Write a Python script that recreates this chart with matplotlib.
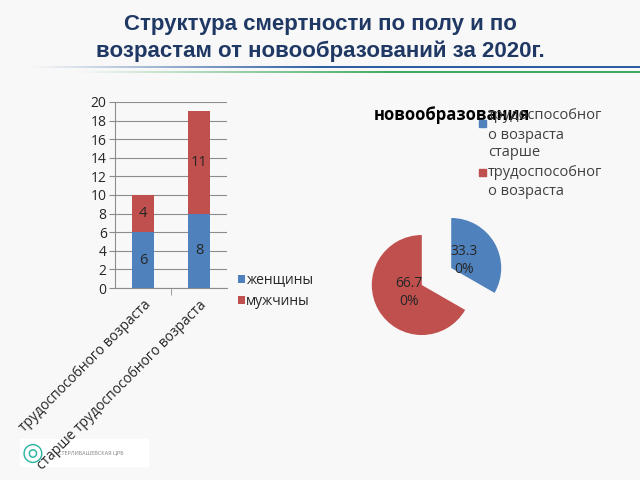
import numpy as np
import matplotlib
matplotlib.use("Agg")
import matplotlib.pyplot as plt
from matplotlib.patches import Rectangle

plt.rcParams['font.family'] = ['Open Sans', 'DejaVu Sans']

# ---- data ----
title = "Структура смертности по полу и по\nвозрастам от новообразований за 2020г."
categories = ["трудоспособного возраста", "старше трудоспособного возраста"]
women = [6, 8]
men = [4, 11]
series_names = ["женщины", "мужчины"]
y_ticks = list(range(0, 21, 2))

pie_title = "новообразования"
pie_values = [33.3, 66.7]
pie_labels = ["33.3\n0%", "66.7\n0%"]
pie_legend = ["трудоспособног\nо возраста", "старше\nтрудоспособног\nо возраста"]

blue = "#4F81BD"
red = "#C0504D"
bg = "#F8F8F8"
txt = "#262626"

fig = plt.figure(figsize=(6.4, 4.8), dpi=100, facecolor=bg)
W, H = 640, 480

def fx(px):
    return px / W

def fy(py):
    return 1 - py / H

# ---- title ----
fig.text(0.5, fy(38), title, ha="center", va="center", fontsize=16,
         fontweight="bold", color="#1F3864", family=["Liberation Sans", "DejaVu Sans"],
         linespacing=1.3)

# gradient lines under title
gax = fig.add_axes([0, fy(75), 1, (75 - 64) / H])
gax.set_axis_off()
n = 400
base = np.array(matplotlib.colors.to_rgb(bg))
img = np.ones((11, n, 3)) * base
t = np.linspace(0, 1, n)
bl = np.array(matplotlib.colors.to_rgb("#2E5FA3"))
gr = np.array(matplotlib.colors.to_rgb("#3DAA5C"))
wb = np.clip((t - 0.05) / 0.45, 0, 1)[:, None]
wg = np.clip((t - 0.12) / 0.5, 0, 1)[:, None]
for r in (2, 3):
    img[r] = base * (1 - wb) + bl * wb
for r in (7, 8):
    img[r] = base * (1 - wg) + gr * wg
gax.imshow(img, aspect="auto", interpolation="bilinear", extent=[0, 1, 0, 1])
gax.set_xlim(0, 1)
gax.set_ylim(0, 1)

# ---- logo (behind everything) ----
fig.patches.append(Rectangle((fx(20), fy(466)), 128 / W, 27 / H,
                             transform=fig.transFigure, color="white", zorder=-2))

# ---- bar chart ----
ax = fig.add_axes([fx(115), fy(288), fx(112), (288 - 102) / H])
ax.set_facecolor(bg)
x = np.arange(len(categories))
bw = 0.38
b1 = ax.bar(x, women, bw, color=blue, label=series_names[0], zorder=3)
b2 = ax.bar(x, men, bw, bottom=women, color=red, label=series_names[1], zorder=3)
for bars, vals, bots in ((b1, women, [0, 0]), (b2, men, women)):
    for rect, v, b in zip(bars, vals, bots):
        ax.text(rect.get_x() + rect.get_width() / 2, b + v / 2, str(v),
                ha="center", va="center", fontsize=10.5, color=txt, zorder=4)
ax.set_xlim(-0.5, len(categories) - 0.5)
ax.set_ylim(0, 20)
ax.set_yticks(y_ticks)
ax.set_yticklabels([str(v) for v in y_ticks], fontsize=10, color=txt)
ax.yaxis.grid(True, color="#8C8C8C", linewidth=0.8, zorder=0)
ax.set_axisbelow(True)
ax.set_xticks(x)
ax.set_xticklabels(categories, rotation=45, ha="right", rotation_mode="anchor",
                   fontsize=10, color=txt)
ax.set_xticks([0.5], minor=True)
ax.tick_params(axis="x", which="major", length=0, pad=7)
ax.tick_params(axis="x", which="minor", length=5, color="#8C8C8C")
ax.tick_params(axis="y", length=4, color="#8C8C8C", pad=2)
for s in ("top", "right"):
    ax.spines[s].set_visible(False)
ax.spines["left"].set_color("#8C8C8C")
ax.spines["bottom"].set_color("#8C8C8C")

ax.legend(loc="upper left", bbox_to_anchor=(fx(231), fy(266)),
          bbox_transform=fig.transFigure, frameon=False, fontsize=10,
          handlelength=0.5, handleheight=0.5, handletextpad=0.1,
          labelspacing=0.45, borderpad=0, labelcolor=txt)

# ---- pie chart ----
pax = fig.add_axes([fx(336.5), fy(376.5), fx(200), 200 / H])
pax.set_axis_off()
wedges, texts = pax.pie(pie_values, colors=[blue, red], startangle=90,
                        counterclock=False, explode=[0.34, 0.34], radius=1,
                        labels=pie_labels, labeldistance=0.3,
                        textprops=dict(fontsize=10, color=txt, ha="center",
                                       va="center", linespacing=1.3))
pax.set_xlim(-2, 2)
pax.set_ylim(-2, 2)

fig.text(fx(452), fy(115), pie_title, ha="center", va="center", fontsize=12,
         fontweight="bold", color="#000000", zorder=1)

# pie legend
marker_y = [123, 172]
text_top = [108, 145]
for i in range(len(pie_legend)):
    fig.patches.append(Rectangle((fx(479), fy(marker_y[i]) - 3.5 / H), 7 / W, 7 / H,
                                 transform=fig.transFigure,
                                 color=[blue, red][i], zorder=5))
    fig.text(fx(488), fy(text_top[i]), pie_legend[i], ha="left", va="top",
             fontsize=10.5, color="#404040", linespacing=1.42, zorder=5)

# logo marks
fig.text(fx(33), fy(453), "◎", ha="center", va="center", fontsize=18,
         color="#2BB5A0", family=["DejaVu Sans"], zorder=-1)
fig.text(fx(58), fy(453), "СТЕРЛИБАШЕВСКАЯ ЦРБ", ha="left", va="center",
         fontsize=4, color="#808080", zorder=-1)

fig.savefig("out.png", dpi=100, facecolor=bg)
